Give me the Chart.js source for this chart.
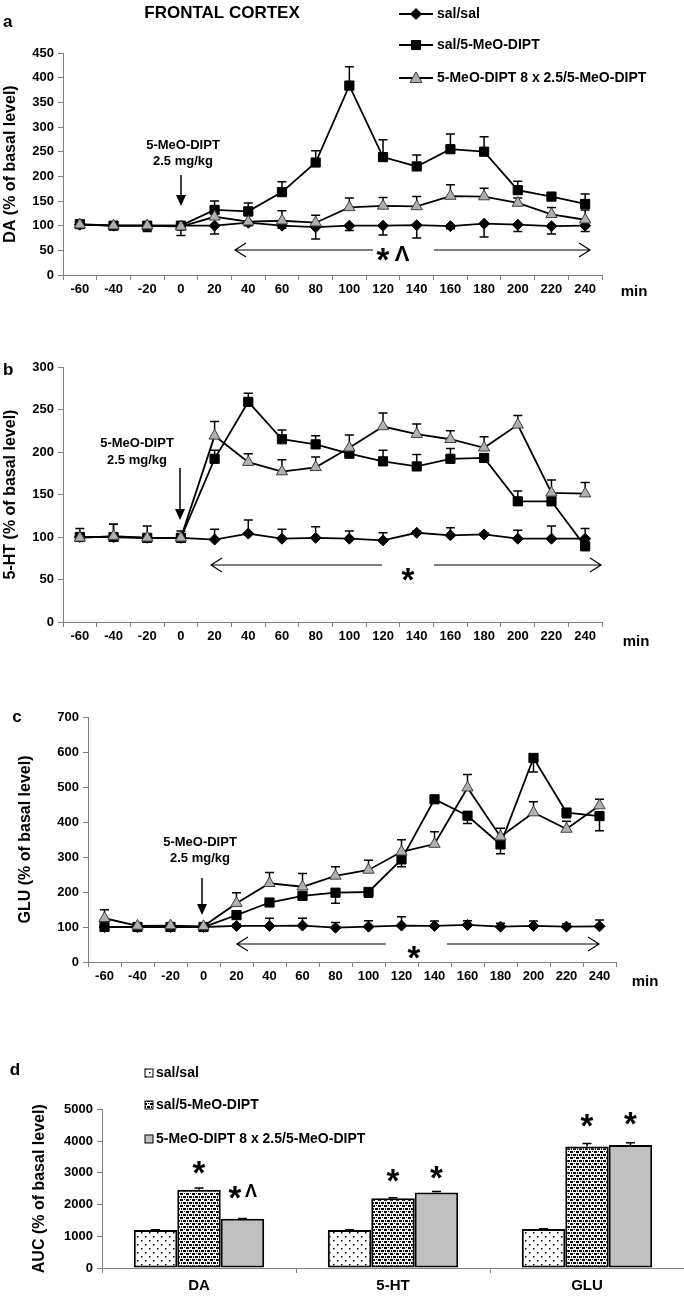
<!DOCTYPE html>
<html><head><meta charset="utf-8">
<script src="https://cdn.jsdelivr.net/npm/chart.js@4.4.1/dist/chart.umd.min.js"></script>
<style>
html,body{margin:0;padding:0;background:#fff;width:684px;height:1299px;overflow:hidden;}
canvas{position:absolute;left:0;}
</style></head><body>
<canvas id="ca" width="684" height="300" style="top:0px;width:684px;height:300px"></canvas>
<canvas id="cb" width="684" height="355" style="top:300px;width:684px;height:355px"></canvas>
<canvas id="cc" width="684" height="340" style="top:655px;width:684px;height:340px"></canvas>
<canvas id="cd" width="684" height="304" style="top:995px;width:684px;height:304px"></canvas>
<script>
// ---------- DATA ----------
const timeLabels = ['-60','-40','-20','0','20','40','60','80','100','120','140','160','180','200','220','240'];
const seriesNames = ['sal/sal','sal/5-MeO-DIPT','5-MeO-DIPT 8 x 2.5/5-MeO-DIPT'];

// a: DA
const daSalSal    = [102,100,100,100,100,106,100,97,100,100,101,99,104,102,99,100];
const daSalSalErr = [3,2,12,20,17,6,5,24,10,19,26,5,27,14,16,12];
const daSalMeo    = [103,100,100,100,132,129,168,228,384,239,220,255,250,172,159,144];
const daSalMeoErr = [2,2,2,2,18,17,21,24,38,35,23,31,30,18,5,20];
const daMeoMeo    = [102,100,100,98,118,108,110,106,137,140,139,160,159,146,123,112];
const daMeoMeoErr = [3,2,2,2,8,12,20,15,19,17,20,23,17,10,14,20];

// b: 5-HT
const htSalSal    = [100,100,99,99,97,104,98,99,98,96,105,102,103,98,98,98];
const htSalSalErr = [10,15,0,0,12,16,11,13,9,9,2,9,2,10,15,12];
const htSalMeo    = [100,100,99,99,192,259,215,209,198,189,183,192,193,142,142,89];
const htSalMeoErr = [0,0,0,0,10,10,11,10,0,13,14,12,0,12,0,0];
const htMeoMeo    = [99,101,99,99,219,188,177,182,205,230,221,215,205,232,152,151];
const htMeoMeoErr = [0,14,14,8,17,10,14,12,15,16,12,10,13,11,15,13];

// c: GLU
const gluSalSal    = [100,100,100,100,103,103,104,98,101,104,103,106,101,103,101,102];
const gluSalSalErr = [5,3,3,3,5,22,21,15,17,25,14,12,10,14,8,18];
const gluSalMeo    = [100,100,100,100,134,170,189,198,200,293,465,418,336,583,427,417];
const gluSalMeoErr = [0,0,0,0,0,10,12,30,15,21,10,22,27,40,15,42];
const gluMeoMeo    = [125,103,104,102,168,225,215,246,263,315,337,498,358,427,380,447];
const gluMeoMeoErr = [24,0,0,0,30,31,38,26,28,34,35,38,24,31,22,18];

// d: AUC
const aucCategories = ['DA','5-HT','GLU'];
const aucSalSal    = [1200,1200,1230];
const aucSalSalErr = [10,10,10];
const aucSalMeo    = [2470,2200,3830];
const aucSalMeoErr = [50,20,100];
const aucMeoMeo    = [1550,2380,3880];
const aucMeoMeoErr = [15,30,70];

// ---------- STYLE / HELPERS ----------
const AXIS = '#808080';
const FF = "'Liberation Sans', Arial, Helvetica, sans-serif";
const TRI = '#b0b0b0';
Chart.defaults.font.family = FF;
Chart.defaults.color = '#000';

function txt(ctx, s, x, y, size, align, weight) {
  ctx.save();
  ctx.font = (weight || 'bold') + ' ' + size + 'px ' + FF;
  ctx.fillStyle = '#000'; ctx.textAlign = align || 'center'; ctx.textBaseline = 'middle';
  ctx.fillText(s, x, y); ctx.restore();
}
function star(ctx, x, yc, size) {
  ctx.save();
  ctx.font = 'bold ' + size + 'px ' + FF;
  ctx.fillStyle = '#000'; ctx.textAlign = 'center'; ctx.textBaseline = 'alphabetic';
  ctx.fillText('*', x, yc + size * 0.58); ctx.restore();
}
function lambda(ctx, x, yc, size) {
  ctx.save();
  ctx.font = 'bold ' + size + 'px ' + FF;
  ctx.fillStyle = '#000'; ctx.textAlign = 'center'; ctx.textBaseline = 'alphabetic';
  ctx.fillText('\u039B', x, yc + size * 0.36); ctx.restore();
}
function downArrow(ctx, x, y1, y2) {
  ctx.save(); ctx.strokeStyle = '#000'; ctx.fillStyle = '#000'; ctx.lineWidth = 1.5;
  ctx.beginPath(); ctx.moveTo(x, y1); ctx.lineTo(x, y2 - 10); ctx.stroke();
  ctx.beginPath(); ctx.moveTo(x - 5, y2 - 11); ctx.lineTo(x + 5, y2 - 11); ctx.lineTo(x, y2); ctx.closePath(); ctx.fill();
  ctx.restore();
}
function sigArrows(ctx, l1, l2, r1, r2, y) {
  ctx.save(); ctx.strokeStyle = '#000'; ctx.lineWidth = 1.2;
  ctx.beginPath();
  ctx.moveTo(l1, y); ctx.lineTo(l2, y);
  ctx.moveTo(l1 + 11, y - 7); ctx.lineTo(l1, y); ctx.lineTo(l1 + 11, y + 7);
  ctx.moveTo(r1, y); ctx.lineTo(r2, y);
  ctx.moveTo(r2 - 11, y - 7); ctx.lineTo(r2, y); ctx.lineTo(r2 - 11, y + 7);
  ctx.stroke(); ctx.restore();
}
function marker(ctx, type, x, y) {
  ctx.save(); ctx.strokeStyle = '#000'; ctx.lineWidth = 1;
  ctx.beginPath();
  if (type === 'diamond') { ctx.fillStyle = '#000'; ctx.moveTo(x, y - 5.5); ctx.lineTo(x + 5.5, y); ctx.lineTo(x, y + 5.5); ctx.lineTo(x - 5.5, y); }
  else if (type === 'square') { ctx.fillStyle = '#000'; ctx.rect(x - 4.5, y - 4.5, 9, 9); }
  else { ctx.fillStyle = TRI; ctx.strokeStyle = '#404040'; ctx.moveTo(x, y - 6); ctx.lineTo(x + 6, y + 4.5); ctx.lineTo(x - 6, y + 4.5); }
  ctx.closePath(); ctx.fill(); ctx.stroke(); ctx.restore();
}

function makePattern(kind) {
  const c = document.createElement('canvas');
  const g = c.getContext('2d');
  if (kind === 'dots') {
    c.width = 8; c.height = 8;
    g.fillStyle = '#fff'; g.fillRect(0, 0, 8, 8);
    g.fillStyle = '#000'; g.fillRect(1, 1, 1.5, 1.5); g.fillRect(5, 5, 1.5, 1.5);
  } else {
    c.width = 6; c.height = 6;
    g.fillStyle = '#fff'; g.fillRect(0, 0, 6, 6);
    g.fillStyle = '#000';
    g.fillRect(0, 0, 3, 2); g.fillRect(3, 3, 3, 2); g.fillRect(4, 0, 1, 1); g.fillRect(1, 3, 1, 2);
  }
  return document.createElement('canvas').getContext('2d').createPattern(c, 'repeat');
}

const errorBars = {
  id: 'errorBars',
  draw(chart) {
    const ctx = chart.ctx, ys = chart.scales.y;
    chart.data.datasets.forEach((ds, i) => {
      if (!ds.errors) return;
      const meta = chart.getDatasetMeta(i);
      ctx.save(); ctx.strokeStyle = '#000'; ctx.lineWidth = 1.5;
      meta.data.forEach((el, j) => {
        const e = ds.errors[j]; if (!e) return;
        const v = ds.data[j];
        const y0 = ys.getPixelForValue(v);
        const y1 = ys.getPixelForValue(ds.errDir === 'down' ? v - e : v + e);
        ctx.beginPath(); ctx.moveTo(el.x, y0); ctx.lineTo(el.x, y1);
        ctx.moveTo(el.x - 4.5, y1); ctx.lineTo(el.x + 4.5, y1); ctx.stroke();
      });
      ctx.restore();
    });
  },
  beforeDatasetsDraw(chart) { if (chart.config.type === 'line') this.draw(chart); },
  afterDatasetsDraw(chart) { if (chart.config.type === 'bar') this.draw(chart); }
};

function annot(fn) { return { id: 'annot', afterDraw(chart) { fn(chart.ctx, chart); } }; }

function lineDatasets(v1, e1, d1, v2, e2, v3, e3, d2) {
  return [
    { label: seriesNames[0], data: v1, errors: e1, errDir: d1, order: 2,
      borderColor: '#000', borderWidth: 1.8, pointStyle: 'rectRot', pointRadius: 5.5,
      pointBackgroundColor: '#000', pointBorderColor: '#000', pointBorderWidth: 1 },
    { label: seriesNames[1], data: v2, errors: e2, errDir: d2 || 'up', order: 1,
      borderColor: '#000', borderWidth: 1.8, pointStyle: 'rect', pointRadius: 6.5,
      pointBackgroundColor: '#000', pointBorderColor: '#000', pointBorderWidth: 1 },
    { label: seriesNames[2], data: v3, errors: e3, errDir: 'up', order: 0,
      borderColor: '#000', borderWidth: 1.8, pointStyle: 'triangle', pointRadius: 6.5,
      pointBackgroundColor: TRI, pointBorderColor: '#404040', pointBorderWidth: 1 }
  ];
}

const plainNum = v => String(v);

function lineChart(id, cfg) {
  return new Chart(document.getElementById(id), {
    type: 'line',
    data: { labels: timeLabels, datasets: cfg.datasets },
    options: {
      responsive: false, animation: false, devicePixelRatio: 1,
      layout: { padding: { left: 0, right: cfg.padRight, top: cfg.top, bottom: 0 } },
      plugins: { legend: { display: false }, tooltip: { enabled: false }, title: { display: false } },
      scales: {
        x: {
          type: 'category', offset: true,
          grid: { offset: true, drawOnChartArea: false, drawTicks: true, tickLength: 5, color: AXIS },
          border: { color: AXIS, width: 1 },
          ticks: { padding: 2, font: { size: 13, weight: 'bold' }, color: '#000', maxRotation: 0, autoSkip: false },
          afterFit: s => { s.height = cfg.xH; }
        },
        y: {
          min: 0, max: cfg.max,
          ticks: { stepSize: cfg.step, padding: 4, font: { size: 13, weight: 'bold' }, color: '#000', callback: plainNum },
          grid: { drawOnChartArea: false, drawTicks: true, tickLength: 5, color: AXIS },
          border: { color: AXIS, width: 1 },
          title: { display: true, text: cfg.ytitle, font: { size: 16, weight: 'bold' }, color: '#000', padding: { top: cfg.titlePad, bottom: 0 } },
          afterFit: s => { s.width = cfg.left; }
        }
      }
    },
    plugins: [errorBars, annot(cfg.draw)]
  });
}

// ---------- PANEL A ----------
lineChart('ca', {
  datasets: lineDatasets(daSalSal, daSalSalErr, 'down', daSalMeo, daSalMeoErr, daMeoMeo, daMeoMeoErr),
  padRight: 82, top: 53, xH: 25, left: 63, max: 450, step: 50,
  ytitle: 'DA (% of basal level)', titlePad: 1,
  draw: (ctx) => {
    txt(ctx, 'FRONTAL CORTEX', 222, 13, 17);
    txt(ctx, 'a', 3, 22, 17, 'left');
    const ly = [14, 45, 78], types = ['diamond', 'square', 'tri'];
    for (let i = 0; i < 3; i++) {
      ctx.save(); ctx.strokeStyle = '#000'; ctx.lineWidth = 1.8;
      ctx.beginPath(); ctx.moveTo(399, ly[i]); ctx.lineTo(433, ly[i]); ctx.stroke(); ctx.restore();
      marker(ctx, types[i], 416, ly[i]);
      txt(ctx, seriesNames[i], 437, ly[i], 14, 'left');
    }
    txt(ctx, '5-MeO-DIPT', 183, 145, 13);
    txt(ctx, '2.5 mg/kg', 183, 161, 13);
    downArrow(ctx, 181, 175, 206);
    sigArrows(ctx, 235, 373, 434, 590, 250);
    star(ctx, 383, 252, 33);
    lambda(ctx, 402, 253, 22);
    txt(ctx, 'min', 634, 292, 15);
  }
});

// ---------- PANEL B ----------
lineChart('cb', {
  datasets: lineDatasets(htSalSal, htSalSalErr, 'up', htSalMeo, htSalMeoErr, htMeoMeo, htMeoMeoErr),
  padRight: 82, top: 67, xH: 33, left: 63, max: 300, step: 50,
  ytitle: '5-HT (% of basal level)', titlePad: 1,
  draw: (ctx) => {
    txt(ctx, 'b', 3, 70, 17, 'left');
    txt(ctx, '5-MeO-DIPT', 137, 143, 13);
    txt(ctx, '2.5 mg/kg', 137, 160, 13);
    downArrow(ctx, 180, 168, 220);
    sigArrows(ctx, 211, 382, 434, 601, 265);
    star(ctx, 408, 272, 33);
    txt(ctx, 'min', 636, 342, 15);
  }
});

// ---------- PANEL C ----------
lineChart('cc', {
  datasets: lineDatasets(gluSalSal, gluSalSalErr, 'up', gluSalMeo, gluSalMeoErr, gluMeoMeo, gluMeoMeoErr, 'down'),
  padRight: 68, top: 62, xH: 33, left: 88, max: 700, step: 100,
  ytitle: 'GLU (% of basal level)', titlePad: 16,
  draw: (ctx) => {
    txt(ctx, 'c', 17, 62, 17);
    txt(ctx, '5-MeO-DIPT', 200, 187, 13);
    txt(ctx, '2.5 mg/kg', 200, 203, 13);
    downArrow(ctx, 202, 223, 260);
    sigArrows(ctx, 237, 386, 447, 599, 289);
    star(ctx, 414, 295, 33);
    txt(ctx, 'min', 645, 327, 15);
  }
});

// ---------- PANEL D ----------
const patDots = makePattern('dots');
const patDense = makePattern('dense');
const barFills = [patDots, patDense, '#c0c0c0'];
new Chart(document.getElementById('cd'), {
  type: 'bar',
  data: {
    labels: aucCategories,
    datasets: [
      { label: seriesNames[0], data: aucSalSal, errors: aucSalSalErr, errDir: 'up', backgroundColor: barFills[0], borderColor: '#000', borderWidth: 2, borderSkipped: false, categoryPercentage: 0.672, barPercentage: 1 },
      { label: seriesNames[1], data: aucSalMeo, errors: aucSalMeoErr, errDir: 'up', backgroundColor: barFills[1], borderColor: '#000', borderWidth: 2, borderSkipped: false, categoryPercentage: 0.672, barPercentage: 1 },
      { label: seriesNames[2], data: aucMeoMeo, errors: aucMeoMeoErr, errDir: 'up', backgroundColor: barFills[2], borderColor: '#000', borderWidth: 2, borderSkipped: false, categoryPercentage: 0.672, barPercentage: 1 }
    ]
  },
  options: {
    responsive: false, animation: false, devicePixelRatio: 1,
    layout: { padding: { left: 0, right: 0, top: 114.5, bottom: 0 } },
    plugins: { legend: { display: false }, tooltip: { enabled: false } },
    scales: {
      x: {
        grid: { offset: true, drawOnChartArea: false, drawTicks: true, tickLength: 5, color: AXIS },
        border: { color: AXIS, width: 1 },
        ticks: { padding: 4, font: { size: 15, weight: 'bold' }, color: '#000' },
        afterFit: s => { s.height = 31; }
      },
      y: {
        min: 0, max: 5000,
        ticks: { stepSize: 1000, padding: 4, font: { size: 13, weight: 'bold' }, color: '#000', callback: plainNum },
        grid: { drawOnChartArea: false, drawTicks: true, tickLength: 5, color: AXIS },
        border: { color: AXIS, width: 1 },
        title: { display: true, text: 'AUC (% of basal level)', font: { size: 16, weight: 'bold' }, color: '#000', padding: { top: 30, bottom: 0 } },
        afterFit: s => { s.width = 102; }
      }
    }
  },
  plugins: [errorBars, annot((ctx, chart) => {
    txt(ctx, 'd', 15, 75, 17);
    const ly = [78, 110, 144];
    for (let i = 0; i < 3; i++) {
      ctx.save(); ctx.fillStyle = barFills[i]; ctx.fillRect(145, ly[i] - 4, 8, 8);
      ctx.strokeStyle = '#000'; ctx.lineWidth = 1; ctx.strokeRect(145, ly[i] - 4, 8, 8); ctx.restore();
      txt(ctx, seriesNames[i], 156, ly[i], 14, 'left');
    }
    const m1 = chart.getDatasetMeta(1).data, m2 = chart.getDatasetMeta(2).data;
    star(ctx, m1[0].x, 170, 33);
    star(ctx, 235, 195, 33); lambda(ctx, 251, 196, 18);
    star(ctx, m1[1].x, 178, 33);
    star(ctx, m2[1].x, 175, 33);
    star(ctx, m1[2].x, 123, 33);
    star(ctx, m2[2].x, 121, 33);
  })]
});
</script>
</body></html>
